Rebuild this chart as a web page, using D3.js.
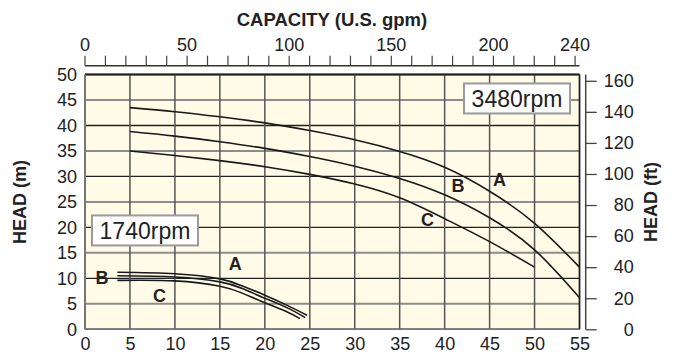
<!DOCTYPE html>
<html>
<head>
<meta charset="utf-8">
<script src="https://cdn.jsdelivr.net/npm/d3@7"></script>
<style>
  html, body { margin: 0; padding: 0; background: #ffffff; }
  svg { display: block; font-family: "Liberation Sans", Arial, sans-serif; }
</style>
</head>
<body>
<svg id="chart" width="679" height="356"></svg>
<script>
// ---- data ----
const bottomTicks = [0, 5, 10, 15, 20, 25, 30, 35, 40, 45, 50, 55];      // m3/h
const leftTicks = [0, 5, 10, 15, 20, 25, 30, 35, 40, 45, 50];            // m
const topTickLabels = [0, 50, 100, 150, 200, 240];                       // US gpm
const topMinorTicks = d3.range(0, 241, 10);                              // US gpm
const rightTicks = [0, 20, 40, 60, 80, 100, 120, 140, 160];              // ft

const hiA = [[5, 43.5], [10, 42.7], [15, 41.7], [20, 40.5], [25, 39.0], [30, 37.2], [35, 34.9], [40, 31.8], [45, 27.1], [50, 20.8], [55, 12.2]];
const hiB = [[5, 38.8], [10, 37.9], [15, 36.8], [20, 35.5], [25, 33.9], [30, 32.0], [35, 29.6], [40, 26.4], [45, 21.9], [50, 15.6], [55, 6.2]];
const hiC = [[5, 35.0], [10, 34.1], [15, 33.1], [20, 31.9], [25, 30.4], [30, 28.5], [35, 25.8], [40, 21.7], [45, 17.2], [50, 12.2]];

const loA = [[3.6, 11.2], [10, 10.9], [15, 9.9], [17.5, 8.5], [20, 6.7], [22.5, 4.7], [24.7, 2.75]];
const loB = [[3.6, 10.5], [10, 10.25], [15, 9.3], [17.5, 8.0], [20, 6.1], [22.5, 4.2], [24.5, 2.3]];
const loC = [[3.6, 9.6], [10, 9.5], [15, 8.45], [17.5, 7.1], [20, 5.2], [22.5, 3.4], [23.9, 2.1]];

const hiLabels = [{t: "A", x: 46.1, y: 29.2}, {t: "B", x: 41.5, y: 28.1}, {t: "C", x: 38.1, y: 21.5}];
const loLabels = [{t: "A", x: 16.7, y: 12.8}, {t: "B", x: 1.9, y: 10.0}, {t: "C", x: 8.3, y: 6.5}];
const rpmLabels = [{t: "3480rpm", x: 48.05, y: 45.3}, {t: "1740rpm", x: 6.67, y: 19.4}];

const GPM_TO_M3H = 0.227125;
const M_TO_FT = 3.28084;

// ---- layout ----
const svg = d3.select("#chart");
const L = 85, R = 579.5, T = 74.5, B = 329.3;
const FF = "Liberation Sans, Arial, sans-serif";
const x = d3.scaleLinear().domain([0, 55]).range([L, R]);
const y = d3.scaleLinear().domain([0, 50]).range([B, T]);
const xg = d3.scaleLinear().domain([0, 55 / GPM_TO_M3H]).range([L, R]);
const yf = d3.scaleLinear().domain([0, 50 * M_TO_FT]).range([B, T]);

// background
svg.append("rect").attr("x", L).attr("y", T).attr("width", R - L).attr("height", B - T)
  .attr("fill", "#fffbe6");

// grid
const g = svg.append("g");
leftTicks.forEach(v => {
  const dark = v % 10 === 0;
  g.append("line").attr("x1", L).attr("x2", R).attr("y1", y(v)).attr("y2", y(v))
    .attr("stroke", dark ? "#222" : "#8c8c8c").attr("stroke-width", dark ? 1.4 : 2);
});
bottomTicks.forEach(v => {
  g.append("line").attr("x1", x(v)).attr("x2", x(v)).attr("y1", T).attr("y2", B)
    .attr("stroke", v === 55 ? "#222" : "#555").attr("stroke-width", v === 55 ? 1.8 : 1.5);
});
g.append("line").attr("x1", L).attr("x2", R).attr("y1", T).attr("y2", T).attr("stroke", "#222").attr("stroke-width", 2);
g.append("line").attr("x1", L).attr("x2", R).attr("y1", B).attr("y2", B).attr("stroke", "#777").attr("stroke-width", 1.5);
g.append("line").attr("x1", L).attr("x2", L).attr("y1", T).attr("y2", B).attr("stroke", "#777").attr("stroke-width", 2);

// left axis labels
const axL = svg.append("g").attr("transform", `translate(${L},0)`)
  .call(d3.axisLeft(y).tickValues(leftTicks).tickSize(0).tickPadding(8));
axL.select(".domain").remove();
axL.selectAll("text").attr("font-size", 18).attr("fill", "#222").attr("font-family", FF);

// bottom axis labels
const axB = svg.append("g").attr("transform", `translate(0,${B})`)
  .call(d3.axisBottom(x).tickValues(bottomTicks).tickSize(0).tickPadding(8));
axB.select(".domain").remove();
axB.selectAll("text").attr("font-size", 18).attr("fill", "#222").attr("font-family", FF);

// top axis (gpm)
const TY = 65.7;
const axT = svg.append("g").attr("transform", `translate(0,${TY})`);
axT.append("line").attr("x1", L).attr("x2", R).attr("y1", 0).attr("y2", 0).attr("stroke", "#333").attr("stroke-width", 1.5);
axT.selectAll("line.tk").data(topMinorTicks).enter().append("line").attr("class", "tk")
  .attr("x1", d => xg(d)).attr("x2", d => xg(d)).attr("y1", 0).attr("y2", -10)
  .attr("stroke", "#444").attr("stroke-width", 1.2);
axT.selectAll("text").data(topTickLabels).enter().append("text")
  .attr("x", d => xg(d)).attr("y", -14.5).attr("text-anchor", "middle")
  .attr("font-size", 18).attr("fill", "#222").text(d => d);

// right axis (ft)
const RX = 585.7;
const axR = svg.append("g").attr("transform", `translate(${RX},0)`)
  .call(d3.axisRight(yf).tickValues(rightTicks).tickSize(11).tickSizeOuter(0).tickPadding(37));
axR.select(".domain").attr("stroke", "#444").attr("stroke-width", 1.5).attr("d", `M0,${T}V${B}`);
axR.selectAll(".tick line").attr("stroke", "#444").attr("stroke-width", 1.3);
axR.selectAll("text").attr("font-size", 18).attr("fill", "#222").attr("text-anchor", "end")
  .attr("font-family", FF);

// titles
svg.append("text").attr("x", 332).attr("y", 26).attr("text-anchor", "middle")
  .attr("font-size", 18.5).attr("font-weight", "bold").attr("fill", "#222").text("CAPACITY (U.S. gpm)");
svg.append("text").attr("transform", "translate(26,202) rotate(-90)").attr("text-anchor", "middle")
  .attr("font-size", 18).attr("font-weight", "bold").attr("fill", "#222").text("HEAD  (m)");
svg.append("text").attr("transform", "translate(657,202) rotate(-90)").attr("text-anchor", "middle")
  .attr("font-size", 18).attr("font-weight", "bold").attr("fill", "#222").text("HEAD  (ft)");

// curves
const line = d3.line().x(d => x(d[0])).y(d => y(d[1])).curve(d3.curveNatural);
[hiA, hiB, hiC, loA, loB, loC].forEach(s => {
  svg.append("path").attr("d", line(s)).attr("fill", "none").attr("stroke", "#1a1a1a").attr("stroke-width", 1.6);
});

// curve labels
[...hiLabels, ...loLabels].forEach(d => {
  svg.append("text").attr("x", x(d.x)).attr("y", y(d.y)).attr("text-anchor", "middle").attr("dominant-baseline", "central")
    .attr("font-size", 18).attr("font-weight", "bold").attr("fill", "#222").text(d.t);
});

// rpm boxes
rpmLabels.forEach(d => {
  const w = 106, h = 30, cx = x(d.x), cy = y(d.y);
  svg.append("rect").attr("x", cx - w / 2).attr("y", cy - h / 2).attr("width", w).attr("height", h)
    .attr("fill", "#fff").attr("stroke", "#9a9a9a").attr("stroke-width", 2);
  svg.append("text").attr("x", cx).attr("y", cy + 1).attr("text-anchor", "middle").attr("dominant-baseline", "central")
    .attr("font-size", 23).attr("fill", "#222").text(d.t);
});
</script>
</body>
</html>
